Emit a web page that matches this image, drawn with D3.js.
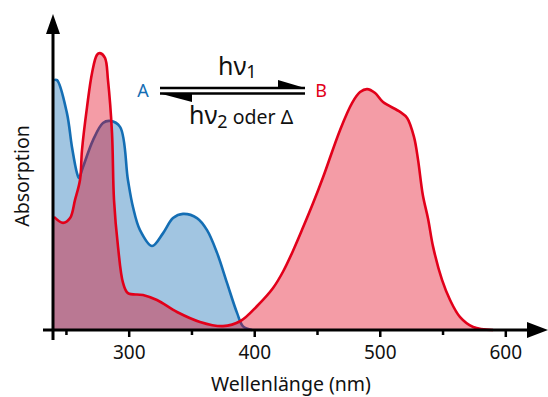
<!DOCTYPE html>
<html><head><meta charset="utf-8">
<script src="https://cdn.jsdelivr.net/npm/d3@7"></script>
<style>body{margin:0;background:#fff}svg{display:block}</style>
</head><body>
<svg id="c" width="548" height="397"></svg>
<script>
// Spectrum A (blue) : wavelength (nm) and absorbance
const nmA  = [240.5,242.9,250.8,254.8,258.8,260.4,263.6,271.6,279.5,285.1,293.1,299.4,303.4,309.0,318.6,327.4,335.3,343.3,354.4,362.4,370.4,378.3,386.3,391.1,398.3];
const absA = [0.833,0.833,0.723,0.61,0.523,0.507,0.543,0.633,0.69,0.697,0.677,0.5,0.41,0.333,0.28,0.323,0.373,0.387,0.373,0.333,0.257,0.157,0.057,0.012,0];
// Spectrum B (red)
const nmB  = [240.5,247.7,253.3,257.2,261.2,262.8,266.8,270.8,274.7,277.1,281.1,283.5,286.7,288.3,291.5,295.5,299.4,311.4,322.5,338.5,356.8,375.1,389.1,402.3,415.0,423.0,431.0,439.0,446.9,454.9,468.4,478.0,484.3,489.9,496.3,502.6,516.2,521.8,527.3,530.5,534.3,538.5,542.5,549.6,556.0,564.0,574.4,590.3];
const absB = [0.377,0.357,0.373,0.433,0.5,0.6,0.743,0.857,0.917,0.923,0.907,0.833,0.657,0.433,0.277,0.157,0.123,0.117,0.1,0.06,0.027,0.013,0.03,0.08,0.14,0.195,0.265,0.343,0.423,0.51,0.667,0.757,0.793,0.803,0.79,0.76,0.727,0.707,0.643,0.567,0.45,0.37,0.277,0.167,0.1,0.043,0.01,0];
const xTicks = [300,400,500,600];
const xMinor = [250,350,450,550];
const xTitle = "Wellenlänge (nm)";
const yTitle = "Absorption";

const svg = d3.select("#c");
const font = "'Noto Sans', 'Open Sans', sans-serif";
const x = d3.scaleLinear().domain([300,600]).range([128.7,505.3]);
const y = d3.scaleLinear().domain([0,1]).range([330,30]);
const x0 = x(240.5);

const blue = "#146eb4", red = "#e2001a";
const dA = nmA.map((v,i)=>[v,absA[i]]);
const dB = nmB.map((v,i)=>[v,absB[i]]);
const line = d3.line().x(d=>x(d[0])).y(d=>y(d[1])).curve(d3.curveCatmullRom.alpha(0.5));
const area = d3.area().x(d=>x(d[0])).y0(y(0)).y1(d=>y(d[1])).curve(d3.curveCatmullRom.alpha(0.5));

svg.append("path").attr("d",area(dA)).attr("fill",blue).attr("fill-opacity",0.4);
svg.append("path").attr("d",line(dA)).attr("fill","none").attr("stroke",blue).attr("stroke-width",2.6);
svg.append("path").attr("d",area(dB)).attr("fill",red).attr("fill-opacity",0.39);
svg.append("path").attr("d",line(dB)).attr("fill","none").attr("stroke",red).attr("stroke-width",2.6);

// axes
const ax = svg.append("g").attr("transform",`translate(0,${y(0)})`)
  .call(d3.axisBottom(x).tickValues(xTicks).tickSize(7).tickFormat(d3.format("d")));
ax.select(".domain").remove();
ax.selectAll(".tick line").attr("stroke","#000").attr("stroke-width",2.5);
ax.selectAll(".tick text").attr("font-family",font).attr("font-size",19).attr("fill","#111").attr("dy","1.0em");
const axm = svg.append("g").attr("transform",`translate(0,${y(0)})`)
  .call(d3.axisBottom(x).tickValues(xMinor).tickSize(5).tickFormat(""));
axm.select(".domain").remove();
axm.selectAll(".tick line").attr("stroke","#000").attr("stroke-width",2.5);

// axis lines with arrows
svg.append("line").attr("x1",43).attr("x2",530).attr("y1",y(0)).attr("y2",y(0)).attr("stroke","#000").attr("stroke-width",3);
svg.append("path").attr("d",`M527,${y(0)-8} L548,${y(0)} L527,${y(0)+8}Z`).attr("fill","#000");
svg.append("line").attr("x1",x0-1).attr("x2",x0-1).attr("y1",340).attr("y2",30).attr("stroke","#000").attr("stroke-width",3);
svg.append("path").attr("d",`M${x0-8},34 L${x0-1},14 L${x0+6},34Z`).attr("fill","#000");

svg.append("text").attr("x",291).attr("y",391).attr("text-anchor","middle").attr("font-family",font).attr("font-size",19.5).attr("fill","#111").text(xTitle);
svg.append("text").attr("transform","translate(29,176) rotate(-90)").attr("text-anchor","middle").attr("font-family",font).attr("font-size",19.5).attr("fill","#111").text(yTitle);

// reaction scheme
svg.append("text").attr("x",143).attr("y",97).attr("text-anchor","middle").attr("font-family",font).attr("font-size",18).attr("fill",blue).text("A");
svg.append("text").attr("x",321).attr("y",97).attr("text-anchor","middle").attr("font-family",font).attr("font-size",18).attr("fill",red).text("B");
svg.append("line").attr("x1",160).attr("x2",305).attr("y1",88).attr("y2",88).attr("stroke","#000").attr("stroke-width",2.5);
svg.append("line").attr("x1",160).attr("x2",305).attr("y1",93.5).attr("y2",93.5).attr("stroke","#000").attr("stroke-width",2.5);
svg.append("path").attr("d","M278,88 L278,80 L305,88Z").attr("fill","#000");
svg.append("path").attr("d","M192,93.5 L192,102 L160,93.5Z").attr("fill","#000");
const t1 = svg.append("text").attr("x",218).attr("y",75).attr("font-family",font).attr("font-size",25).attr("fill","#111");
t1.append("tspan").text("hν");
t1.append("tspan").attr("font-size",18).attr("dy",3).text("1");
const t2 = svg.append("text").attr("x",189).attr("y",124).attr("font-family",font).attr("font-size",25).attr("fill","#111");
t2.append("tspan").text("hν");
t2.append("tspan").attr("font-size",18).attr("dy",4).text("2");
t2.append("tspan").attr("font-size",19.5).attr("dy",-4).text(" oder Δ");
</script>
</body></html>
